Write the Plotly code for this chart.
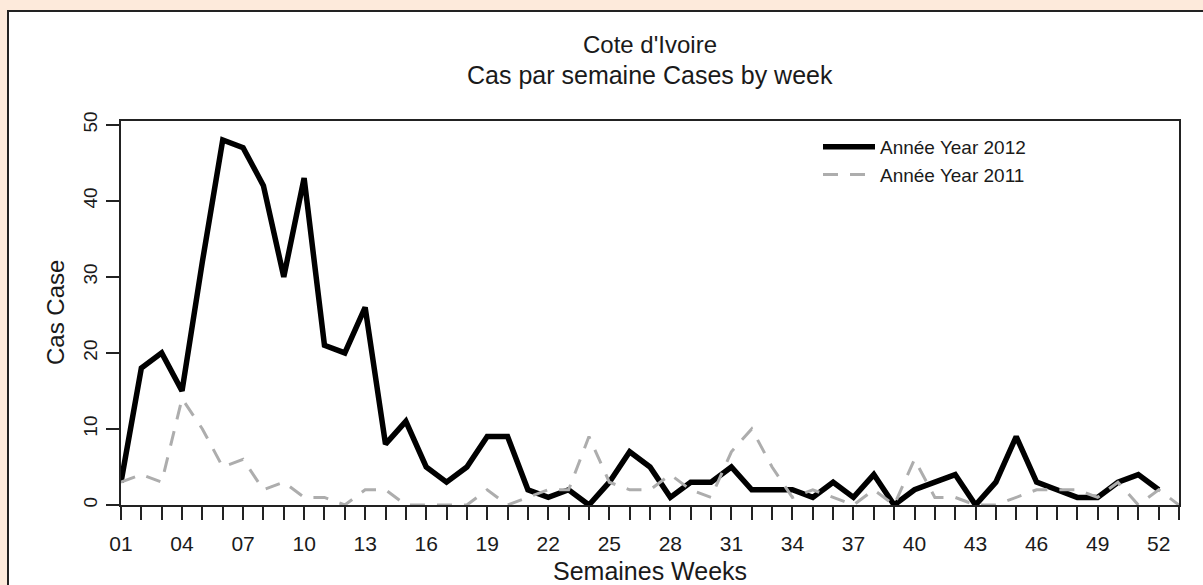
import plotly.graph_objects as go

weeks_2012 = list(range(1, 53))
cases_2012 = [3, 18, 20, 15, 32, 48, 47, 42, 30, 43, 21, 20, 26, 8, 11, 5, 3, 5, 9, 9,
              2, 1, 2, 0, 3, 7, 5, 1, 3, 3, 5, 2, 2, 2, 1, 3, 1, 4, 0, 2,
              3, 4, 0, 3, 9, 3, 2, 1, 1, 3, 4, 2]
weeks_2011 = list(range(1, 54))
cases_2011 = [3, 4, 3, 14, 10, 5, 6, 2, 3, 1, 1, 0, 2, 2, 0, 0, 0, 0, 2, 0,
              1, 2, 2, 9, 3, 2, 2, 4, 2, 1, 7, 10, 5, 1, 2, 1, 0, 2, 0, 6,
              1, 1, 0, 0, 1, 2, 2, 2, 1, 3, 0, 2, 0]
x_tick_vals = list(range(1, 54))
x_tick_text = [f"{w:02d}" if (w - 1) % 3 == 0 and w <= 52 else "" for w in x_tick_vals]
y_tick_vals = [0, 10, 20, 30, 40, 50]

W, H = 1203, 585
L, R, T, B = 121, 24, 121, 80
pw, ph = W - L - R, H - T - B

def px(xp):
    return (xp - L) / pw

def py(yp):
    return (H - B - yp) / ph

FONT = "Liberation Sans, Arial, sans-serif"
TXT = "#1a1a1a"

fig = go.Figure()
fig.add_trace(go.Scatter(x=weeks_2012, y=cases_2012, mode="lines", name="Année Year 2012",
                         line=dict(color="black", width=5.5)))
fig.add_trace(go.Scatter(x=weeks_2011, y=cases_2011, mode="lines", name="Année Year 2011",
                         line=dict(color="#adadad", width=3, dash="15px,12px")))

fig.update_layout(
    width=W, height=H,
    margin=dict(l=L, r=R, t=T, b=B),
    paper_bgcolor="#fdeadb",
    plot_bgcolor="white",
    font=dict(family=FONT, color=TXT),
    showlegend=True,
    legend=dict(x=px(818), y=py(128), xanchor="left", yanchor="top",
                bgcolor="rgba(0,0,0,0)", font=dict(size=19, color=TXT),
                tracegroupgap=0, itemwidth=52),
    shapes=[dict(type="rect", xref="paper", yref="paper", x0=px(8), x1=px(1230),
                 y0=py(640), y1=py(11), fillcolor="white",
                 line=dict(color="#222", width=2), layer="below")],
    annotations=[
        dict(text="Cote d'Ivoire", xref="paper", yref="paper", x=0.5, y=py(45),
             showarrow=False, font=dict(size=24, color=TXT), xanchor="center", yanchor="middle"),
        dict(text="Cas par semaine Cases by week", xref="paper", yref="paper", x=0.5, y=py(75),
             showarrow=False, font=dict(size=25, color=TXT), xanchor="center", yanchor="middle"),
        dict(text="Semaines Weeks", xref="paper", yref="paper", x=0.5, y=py(571),
             showarrow=False, font=dict(size=25, color=TXT), xanchor="center", yanchor="middle"),
        dict(text="Cas Case", xref="paper", yref="paper", x=px(55), y=py(313), textangle=-90,
             showarrow=False, font=dict(size=24, color=TXT), xanchor="center", yanchor="middle"),
    ],
)
fig.update_xaxes(range=[1, 53], tickmode="array", tickvals=x_tick_vals, ticktext=x_tick_text,
                 ticks="outside", ticklen=13, tickwidth=1.5, tickcolor="#222",
                 ticklabelstandoff=6,
                 showline=True, linecolor="#222", linewidth=1.5, mirror=True,
                 showgrid=False, zeroline=False, tickfont=dict(size=21, color=TXT))
fig.update_yaxes(range=[0, 50.5], tickmode="array", tickvals=y_tick_vals,
                 ticks="outside", ticklen=13, tickwidth=1.5, tickcolor="#222", tickangle=-90,
                 ticklabelstandoff=2,
                 showline=True, linecolor="#222", linewidth=1.5, mirror=True,
                 showgrid=False, zeroline=False, tickfont=dict(size=19, color=TXT))

fig.write_html("out.html", config={"displayModeBar": False},
               post_script="document.body.style.margin='0';document.body.style.background='#fdeadb';")
